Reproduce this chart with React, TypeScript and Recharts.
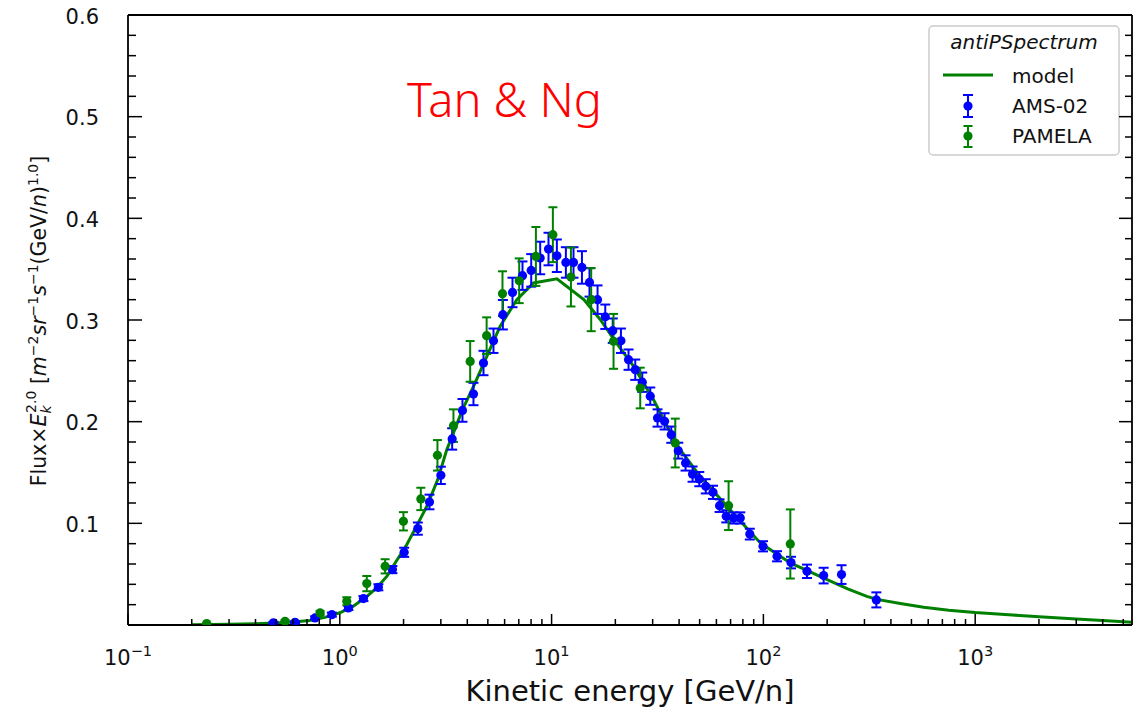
import React from "react";
import { ComposedChart, Line, Scatter, ErrorBar, XAxis, YAxis, Customized } from "recharts";

// model curve: kinetic energy [GeV/n] vs flux × E^2
const modelE = [0.2, 0.3, 0.4, 0.5, 0.6, 0.72, 0.85, 1.0, 1.15, 1.34, 1.5, 1.67, 1.85, 2.07, 2.3, 2.58, 2.9, 3.2, 3.44, 3.8, 4.28, 4.94, 5.71, 6.85, 8.22, 10.6, 14.2, 17.0, 20.3, 24.4, 30.3, 39, 50.4, 67.3, 96.7, 134, 200, 250, 308, 344, 443, 571, 750, 1000, 1500, 2000, 3000, 4000, 5500];
const modelFlux = [0.0003, 0.0007, 0.0012, 0.002, 0.003, 0.0045, 0.0075, 0.012, 0.018, 0.028, 0.037, 0.048, 0.063, 0.079, 0.097, 0.117, 0.143, 0.1725, 0.189, 0.212, 0.2347, 0.264, 0.2937, 0.32, 0.3364, 0.3406, 0.32, 0.3003, 0.277, 0.2544, 0.2216, 0.177, 0.146, 0.1167, 0.0807, 0.061, 0.0446, 0.0355, 0.0282, 0.0252, 0.0212, 0.0175, 0.0146, 0.0122, 0.0098, 0.0082, 0.006, 0.0045, 0.0026];

// AMS-02 antiproton points
const amsE = [0.486, 0.615, 0.764, 0.917, 1.098, 1.293, 1.521, 1.772, 2.013, 2.336, 2.651, 3.0, 3.392, 3.795, 4.277, 4.769, 5.317, 5.888, 6.537, 7.288, 8.011, 8.833, 9.669, 10.59, 11.68, 12.69, 13.91, 15.1, 16.48, 17.92, 19.44, 21.25, 23.08, 24.83, 26.79, 29.23, 31.64, 34.15, 36.73, 39.63, 42.91, 46.3, 49.81, 53.45, 57.81, 62.11, 66.79, 72.32, 77.8, 86.26, 99.6, 116.0, 135.0, 160.7, 192.5, 233.8, 341.5];
const amsFlux = [0.0021, 0.0027, 0.007, 0.0102, 0.0168, 0.026, 0.0371, 0.0545, 0.0715, 0.0948, 0.121, 0.1472, 0.183, 0.2111, 0.2272, 0.2577, 0.2796, 0.3052, 0.3271, 0.3436, 0.3488, 0.361, 0.3698, 0.3632, 0.3566, 0.3566, 0.3517, 0.337, 0.32, 0.3032, 0.2895, 0.2796, 0.261, 0.2511, 0.2388, 0.2251, 0.2036, 0.2003, 0.1872, 0.1715, 0.1594, 0.1484, 0.1435, 0.1364, 0.1305, 0.1174, 0.1069, 0.1053, 0.1053, 0.0894, 0.0774, 0.0676, 0.0614, 0.0528, 0.0486, 0.0496, 0.0247];
const amsErr = [0.001, 0.001, 0.0015, 0.002, 0.002, 0.0025, 0.003, 0.0035, 0.0045, 0.006, 0.0072, 0.0085, 0.0105, 0.0112, 0.011, 0.012, 0.012, 0.0145, 0.0145, 0.014, 0.016, 0.016, 0.016, 0.016, 0.015, 0.015, 0.016, 0.014, 0.014, 0.012, 0.012, 0.012, 0.01, 0.01, 0.0095, 0.0085, 0.0085, 0.008, 0.008, 0.0078, 0.0075, 0.0075, 0.007, 0.007, 0.0065, 0.0062, 0.006, 0.0055, 0.0055, 0.0053, 0.005, 0.005, 0.0057, 0.0066, 0.0077, 0.0092, 0.0074];

// PAMELA antiproton points
const pamelaE = [0.2353, 0.5515, 0.807, 1.079, 1.341, 1.637, 1.997, 2.413, 2.891, 3.44, 4.126, 4.935, 5.863, 7.031, 8.431, 10.14, 12.34, 15.38, 19.61, 26.21, 38.36, 68.5, 134.0];
const pamelaFlux = [0.0014, 0.0036, 0.0119, 0.0233, 0.0407, 0.0577, 0.102, 0.124, 0.1669, 0.1961, 0.2593, 0.2846, 0.3259, 0.3386, 0.3625, 0.3839, 0.3423, 0.32, 0.279, 0.2331, 0.179, 0.1174, 0.0797];
const pamelaErr = [0.0005, 0.001, 0.002, 0.004, 0.0075, 0.007, 0.009, 0.011, 0.015, 0.016, 0.02, 0.018, 0.022, 0.022, 0.029, 0.027, 0.029, 0.031, 0.027, 0.02, 0.024, 0.024, 0.034];

// axis ticks
const xMajor = [0.1, 1, 10, 100, 1000];
const xExponents = ["−1", "0", "1", "2", "3"];
const xMinor = [0.2, 0.3, 0.4, 0.5, 0.6, 0.7, 0.8, 0.9, 2, 3, 4, 5, 6, 7, 8, 9, 20, 30, 40, 50, 60, 70, 80, 90, 200, 300, 400, 500, 600, 700, 800, 900, 2000, 3000, 4000, 5000];
const yMajor = [0, 0.1, 0.2, 0.3, 0.4, 0.5, 0.6];
const yLabels = ["", "0.1", "0.2", "0.3", "0.4", "0.5", "0.6"];
const yMinor = [0.02, 0.04, 0.06, 0.08, 0.12, 0.14, 0.16, 0.18, 0.22, 0.24, 0.26, 0.28, 0.32, 0.34, 0.36, 0.38, 0.42, 0.44, 0.46, 0.48, 0.52, 0.54, 0.56, 0.58];

const modelData = modelE.map((e, i) => ({ e, v: modelFlux[i] }));
const amsData = amsE.map((e, i) => ({ e, v: amsFlux[i], err: amsErr[i] }));
const pamelaData = pamelaE.map((e, i) => ({ e, v: pamelaFlux[i], err: pamelaErr[i] }));

const xTicks = [...xMajor, ...xMinor].sort((a, b) => a - b);
const yTicks = [...yMajor, ...yMinor].sort((a, b) => a - b);

const W = 1143;
const H = 708;
// each axis takes 1px of room (a 0px axis is not drawn), so the plot box is 128..1132 x 15..625
const M = { top: 14, right: 10, bottom: 82, left: 127 };
const FONT = "'DejaVu Sans', sans-serif";
const BLUE = "#0000ff";
const GREEN = "#008000";
const INK = "#111";

const BottomTick = ({ x, y, payload }: any) => {
  const i = xMajor.indexOf(payload.value);
  return (
    <g>
      <line x1={x} x2={x} y1={y} y2={y - (i >= 0 ? 11 : 6)} stroke="#000" strokeWidth={1.5} />
      {i >= 0 && (
        <text x={x} y={y + 40} textAnchor="middle" fontSize={21} fill={INK} fontFamily={FONT}>
          10<tspan dy={-9} fontSize={14.5}>{xExponents[i]}</tspan>
        </text>
      )}
    </g>
  );
};

const TopTick = ({ x, y, payload }: any) => {
  const major = xMajor.indexOf(payload.value) >= 0;
  return <line x1={x} x2={x} y1={y} y2={y + (major ? 11 : 6)} stroke="#000" strokeWidth={1.5} />;
};

const LeftTick = ({ x, y, payload }: any) => {
  const i = yMajor.indexOf(payload.value);
  return (
    <g>
      <line x1={x} x2={x + (i >= 0 ? 14 : 8)} y1={y} y2={y} stroke="#000" strokeWidth={1.5} />
      {i > 0 && (
        <text x={x - 29} y={y + 8.5} textAnchor="end" fontSize={21} fill={INK} fontFamily={FONT}>
          {yLabels[i]}
        </text>
      )}
    </g>
  );
};

const RightTick = ({ x, y, payload }: any) => {
  const major = yMajor.indexOf(payload.value) >= 0;
  return <line x1={x} x2={x - (major ? 13 : 7)} y1={y} y2={y} stroke="#000" strokeWidth={1.5} />;
};

const Dot = (color: string) => (p: any) => <circle cx={p.cx} cy={p.cy} r={4.6} fill={color} />;

// axis titles, annotation and legend box
const Decorations = () => (
  <g fontFamily={FONT} fill={INK}>
    <text x={630} y={701} textAnchor="middle" fontSize={29}>
      Kinetic energy [GeV/n]
    </text>
    <text transform="rotate(-90)" x={-321} y={46} textAnchor="middle" fontSize={20.5}>
      Flux×<tspan fontStyle="italic">E</tspan>
      <tspan dy={5} fontSize={14} fontStyle="italic">k</tspan>
      <tspan dx={-7.5} dy={-15} fontSize={14}>2.0</tspan>
      <tspan dy={10}> [</tspan>
      <tspan fontStyle="italic">m</tspan>
      <tspan dy={-8.5} fontSize={14}>−2</tspan>
      <tspan dy={8.5} fontStyle="italic">sr</tspan>
      <tspan dy={-8.5} fontSize={14}>−1</tspan>
      <tspan dy={8.5} fontStyle="italic">s</tspan>
      <tspan dy={-8.5} fontSize={14}>−1</tspan>
      <tspan dy={8.5}>(GeV/</tspan>
      <tspan fontStyle="italic">n</tspan>
      <tspan>)</tspan>
      <tspan dy={-8.5} fontSize={14}>1.0</tspan>
      <tspan dy={8.5}>]</tspan>
    </text>
    <text x={407} y={117} fontSize={47} fill="#ff0000" fontFamily="'Noto Sans', sans-serif" fontWeight={300}>
      Tan &amp; Ng
    </text>
    <rect x={929} y={26} width={190} height={129} rx={4} fill="#fff" fillOpacity={0.8} stroke="#cccccc" strokeWidth={1.5} />
    <text x={1024} y={49} textAnchor="middle" fontSize={20} fontStyle="italic">antiPSpectrum</text>
    <line x1={943} x2={993} y1={75} y2={75} stroke={GREEN} strokeWidth={3} />
    <text x={1012} y={83} fontSize={20}>model</text>
    <g stroke={BLUE} strokeWidth={2}>
      <line x1={968} x2={968} y1={95} y2={117} />
      <line x1={963} x2={973} y1={95} y2={95} />
      <line x1={963} x2={973} y1={117} y2={117} />
    </g>
    <circle cx={968} cy={106} r={4.6} fill={BLUE} />
    <text x={1012} y={113} fontSize={20}>AMS-02</text>
    <g stroke={GREEN} strokeWidth={2}>
      <line x1={968} x2={968} y1={126} y2={147} />
      <line x1={963.5} x2={972.5} y1={126} y2={126} />
      <line x1={963.5} x2={972.5} y1={147} y2={147} />
    </g>
    <circle cx={968} cy={136} r={4.6} fill={GREEN} />
    <text x={1012} y={143} fontSize={20}>PAMELA</text>
  </g>
);

export default function App() {
  const axisLine = { stroke: "#000", strokeWidth: 1.8 };
  return (
    <div style={{ position: "absolute", left: 0, top: 0, width: W, height: H, background: "#fff" }}>
      <ComposedChart width={W} height={H} margin={M}>
        <XAxis
          dataKey="e"
          type="number"
          scale="log"
          domain={[0.1, 5500]}
          allowDataOverflow
          ticks={xTicks}
          interval={0}
          tick={<BottomTick />}
          tickLine={false}
          tickSize={0}
          tickMargin={0}
          axisLine={axisLine}
          height={1}
        />
        <XAxis
          xAxisId="top"
          orientation="top"
          type="number"
          scale="log"
          domain={[0.1, 5500]}
          allowDataOverflow
          ticks={xTicks}
          interval={0}
          tick={<TopTick />}
          tickLine={false}
          tickSize={0}
          tickMargin={0}
          axisLine={axisLine}
          height={1}
        />
        <YAxis
          dataKey="v"
          type="number"
          domain={[0, 0.6]}
          allowDataOverflow
          ticks={yTicks}
          interval={0}
          tick={<LeftTick />}
          tickLine={false}
          tickSize={0}
          tickMargin={0}
          axisLine={axisLine}
          width={1}
        />
        <YAxis
          yAxisId="right"
          orientation="right"
          type="number"
          domain={[0, 0.6]}
          allowDataOverflow
          ticks={yTicks}
          interval={0}
          tick={<RightTick />}
          tickLine={false}
          tickSize={0}
          tickMargin={0}
          axisLine={axisLine}
          width={1}
        />
        <Line
          data={modelData}
          dataKey="v"
          type="linear"
          stroke={GREEN}
          strokeWidth={3}
          dot={false}
          activeDot={false}
          isAnimationActive={false}
        />
        <Scatter data={amsData} dataKey="v" fill={BLUE} shape={Dot(BLUE)} isAnimationActive={false}>
          <ErrorBar dataKey="err" direction="y" width={5} stroke={BLUE} strokeWidth={2} isAnimationActive={false} />
        </Scatter>
        <Scatter data={pamelaData} dataKey="v" fill={GREEN} shape={Dot(GREEN)} isAnimationActive={false}>
          <ErrorBar dataKey="err" direction="y" width={4.5} stroke={GREEN} strokeWidth={2} isAnimationActive={false} />
        </Scatter>
        <Customized component={Decorations} />
      </ComposedChart>
    </div>
  );
}
